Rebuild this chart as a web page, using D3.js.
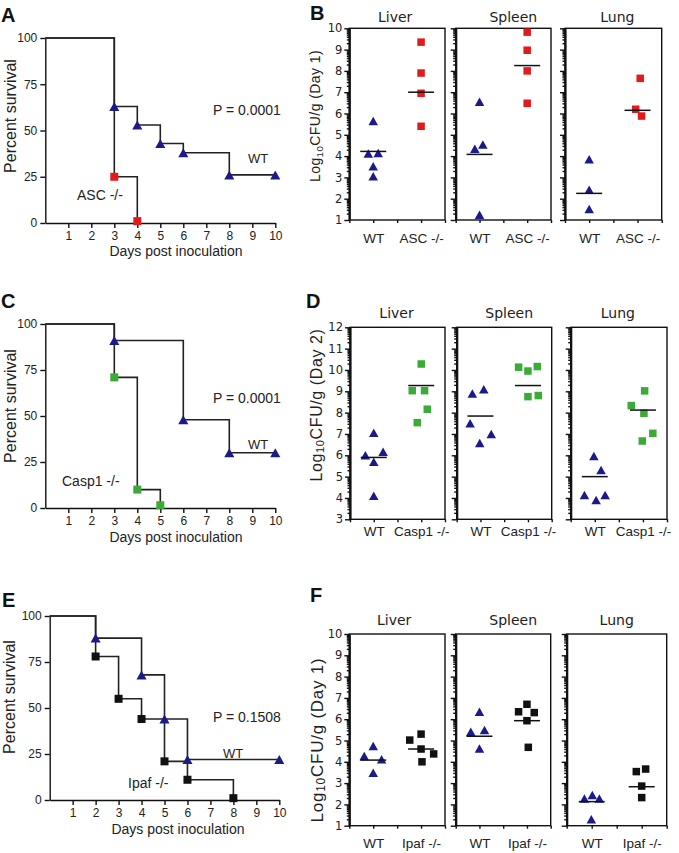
<!DOCTYPE html>
<html><head><meta charset="utf-8">
<script src="https://cdn.jsdelivr.net/npm/d3@7"></script>
<style>body{margin:0;background:#fff} svg{display:block}</style>
</head><body><svg id="c" width="679" height="853"></svg>
<script>
// ---------------- data ----------------
const dayTicks = [1,2,3,4,5,6,7,8,9,10];
const pctTicks = [0,25,50,75,100];

// Panel A (survival, WT vs ASC -/-)
const aWtDays = [0,3,4,5,6,8,10];
const aWtPct  = [100,63,53,43,38,26,26];
const aKoDays = [0,3,4];
const aKoPct  = [100,25,1];
// Panel C (survival, WT vs Casp1 -/-)
const cWtDays = [0,3,6,8,10];
const cWtPct  = [100,91,48,30,30];
const cKoDays = [0,3,4,5];
const cKoPct  = [100,71,10,1.5];
// Panel E (survival, WT vs Ipaf -/-)
const eWtDays = [0,2,4,5,6,10];
const eWtPct  = [100,88,68,44,22,22];
const eKoDays = [0,2,3,4,5,6,8];
const eKoPct  = [100,78,55,44,21,11,1];

const organs  = ["Liver","Spleen","Lung"];
const koNames = ["ASC -/-","Casp1 -/-","Ipaf -/-"];
const pLabels = ["P = 0.0001","P = 0.0001","P = 0.1508"];

// Panel B (Log10 CFU/g, Day 1) per organ: Liver, Spleen, Lung
const bWt    = [[5.65,4.12,4.15,3.52,3.05],[6.55,4.55,4.35,1.25],[3.85,2.42,1.52]];
const bWtJit = [[0,-0.55,0.55,0,0],[0,0.37,-0.52,0],[0,0,0]];
const bKo    = [[9.35,7.9,6.95,5.4],[9.82,8.97,8.0,6.48],[7.65,6.2,5.88]];
const bKoJit = [[0,0,0,0],[0,0,0,0],[0.3,-0.2,0.45]];
const bWtMid = [4.22,4.08,2.25];
const bKoMid = [7.0,8.25,6.15];

// Panel D (Log10 CFU/g, Day 2)
const dWt    = [[7.06,6.0,6.17,5.7,4.1],[8.9,9.1,7.5,6.58,7.0],[5.97,5.31,4.14,3.9,4.14]];
const dWtJit = [[0,-0.93,1.04,0,0],[-0.9,0.37,-1.15,-0.08,1.2],[-0.1,0.7,-1.15,0.15,1.15]];
const dKo    = [[10.28,9.03,9.03,8.16,7.53],[10.13,9.95,10.16,8.75,8.8],[9.02,8.33,7.97,7.03,6.67]];
const dKoJit = [[0,-1,0.37,0.67,-0.44],[-1.04,0,1.04,0,1.15],[0.19,-1.3,0.11,1.1,-0.07]];
const dWtMid = [5.9,7.84,5.0];
const dKoMid = [9.27,9.27,8.12];

// Panel F (Log10 CFU/g, Day 1)
const fWt    = [[4.74,4.27,4.12,3.49],[6.35,5.41,5.49,4.63],[2.44,2.28,2.28,1.3]];
const fWtJit = [[0,-1,0.93,0],[0,-0.96,0.56,0],[0.07,-0.81,0.85,-0.04]];
const fKo    = [[5.02,5.3,4.6,4.37,4.0],[6.7,6.35,6.31,5.93,4.68],[3.54,3.66,2.86,2.32]];
const fKoJit = [[-1.26,0,0,1.4,0.1],[0,-0.93,0.81,0,0.15],[-0.6,0.44,0,0]];
const fWtMid = [4.08,5.2,2.13];
const fKoMid = [4.6,5.93,2.83];

// ---------------- style ----------------
const NAVY = "#1c1a88", RED = "#e3191c", GREEN = "#3aab37", BLACK = "#111111";
const SANS = "'Liberation Sans', Arial, sans-serif";
const GEN  = "'DejaVu Sans', Verdana, sans-serif";

const svg = d3.select("#c");

function triPath(w, h){ return `M0,${-h/2}L${w/2},${h/2}L${-w/2},${h/2}Z`; }

function drawMarker(g, shape, color, cx, cy, size){
  if (shape === "tri") {
    g.append("path").attr("d", triPath(size*1.12, size)).attr("transform", `translate(${cx},${cy})`).attr("fill", color);
  } else {
    g.append("rect").attr("x", cx-size/2).attr("y", cy-size/2).attr("width", size).attr("height", size).attr("fill", color);
  }
}

function styleAxis(a, font, size){
  a.selectAll("path,line").attr("stroke", "#111").attr("stroke-width", 1.4);
  a.selectAll("text").attr("fill", "#222").style("font-family", font).style("font-size", size + "px");
}

// ---------------- survival panel ----------------
function survival(o){
  const x = d3.scaleLinear().domain([0,10]).range([o.x0, o.x10]);
  const y = d3.scaleLinear().domain([0,100]).range([o.yb, o.yt]);
  const g = svg.append("g");

  const xa = g.append("g").attr("transform", `translate(0,${o.yb})`)
    .call(d3.axisBottom(x).tickValues(dayTicks).tickSize(5).tickPadding(3).tickSizeOuter(0));
  styleAxis(xa, SANS, 12);
  const ya = g.append("g").attr("transform", `translate(${o.x0},0)`)
    .call(d3.axisLeft(y).tickValues(pctTicks).tickSize(5).tickPadding(3).tickSizeOuter(0));
  styleAxis(ya, SANS, 12);

  const line = d3.line().x(d => x(d[0])).y(d => y(d[1])).curve(d3.curveStepAfter);
  const ko = d3.zip(o.koDays, o.koPct), wt = d3.zip(o.wtDays, o.wtPct);
  g.append("path").attr("d", line(ko)).attr("fill","none").attr("stroke","#222").attr("stroke-width",1.6);
  g.append("path").attr("d", line(wt)).attr("fill","none").attr("stroke","#222").attr("stroke-width",1.6);
  ko.slice(1).forEach(d => drawMarker(g, "sq", o.koColor, x(d[0]), y(d[1]), 8));
  wt.slice(1).forEach(d => drawMarker(g, "tri", NAVY, x(d[0]), y(d[1]), 9));

  g.append("text").attr("x", o.pX).attr("y", o.pY).text(o.pText)
    .style("font-family", SANS).style("font-size","14px").attr("fill","#222");
  g.append("text").attr("x", o.wtX).attr("y", o.wtY).text("WT")
    .style("font-family", SANS).style("font-size","13px").attr("fill","#222");
  g.append("text").attr("x", o.koX).attr("y", o.koY).text(o.koText)
    .style("font-family", SANS).style("font-size","14px").attr("fill","#222");

  g.append("text").attr("x", o.xtX).attr("y", o.xtY).attr("text-anchor","middle")
    .text("Days post inoculation").style("font-family", SANS).style("font-size","14px").attr("fill","#222");
  g.append("text").attr("transform", `translate(${o.ytX},${o.ytY}) rotate(-90)`).attr("text-anchor","middle")
    .text("Percent survival").style("font-family", SANS).style("font-size","16px").attr("fill","#222");
}

// ---------------- scatter panel ----------------
function scatter(o){
  const g = svg.append("g");
  const ints = d3.range(o.dom[0], o.dom[1] + 1);
  const minors = [];
  for (let n = o.dom[0]; n < o.dom[1]; n++) for (let k = 2; k <= 9; k++) minors.push(n + Math.log10(k));

  organs.forEach((org, i) => {
    const [l, r] = o.frames[i];
    const x = d3.scalePoint().domain(["WT", o.koName]).range([l, r]).padding(0.5);
    const xf = d3.scaleLinear().domain([0,1]).range([l, r]);
    const y = d3.scaleLinear().domain(o.dom).range([o.bottom, o.top]);

    g.append("rect").attr("x", l).attr("y", o.top).attr("width", r - l).attr("height", o.bottom - o.top)
      .attr("fill","none").attr("stroke","#111").attr("stroke-width",1.4);

    const yMin = g.append("g").attr("transform", `translate(${l},0)`)
      .call(d3.axisLeft(y).tickValues(minors).tickSize(2.5).tickSizeOuter(0));
    styleAxis(yMin, GEN, 11);
    yMin.select(".domain").remove();
    yMin.selectAll("text").remove();
    const ya = g.append("g").attr("transform", `translate(${l},0)`)
      .call(d3.axisLeft(y).tickValues(ints).tickSize(5).tickPadding(2).tickSizeOuter(0).tickFormat(d3.format("d")));
    styleAxis(ya, GEN, 11.5);
    ya.select(".domain").attr("stroke-width", 2.2);
    if (i !== 0) ya.selectAll("text").remove();

    const xMin = g.append("g").attr("transform", `translate(0,${o.bottom})`)
      .call(d3.axisBottom(xf).tickValues([0,0.5,1]).tickSize(3).tickSizeOuter(0));
    styleAxis(xMin, SANS, 13);
    xMin.select(".domain").remove();
    xMin.selectAll("text").remove();
    const xa = g.append("g").attr("transform", `translate(0,${o.bottom})`)
      .call(d3.axisBottom(x).tickSize(3).tickPadding(o.labPad).tickSizeOuter(0));
    styleAxis(xa, SANS, 13.5);
    xa.select(".domain").remove();

    g.append("text").attr("x", (l + r)/2 + o.titleDx[i]).attr("y", o.titleY).attr("text-anchor","middle")
      .text(org).style("font-family", GEN).style("font-size","14px").attr("fill","#222");

    const J = 9;
    o.wt[i].forEach((v, k) => drawMarker(g, "tri", NAVY, x("WT") + o.wtJit[i][k]*J, y(v), 8.5));
    o.ko[i].forEach((v, k) => drawMarker(g, "sq", o.koColor, x(o.koName) + o.koJit[i][k]*J, y(v), 7.5));

    [[x("WT"), o.wtMid[i]], [x(o.koName), o.koMid[i]]].forEach(([cx, v]) => {
      g.append("line").attr("x1", cx - 13).attr("x2", cx + 13).attr("y1", y(v)).attr("y2", y(v))
        .attr("stroke","#111").attr("stroke-width",1.5);
    });
  });

  const fs = o.ylFont;
  const t = g.append("text").attr("transform", `translate(${o.ylX},${o.ylY}) rotate(-90)`)
    .attr("text-anchor","middle").attr("dominant-baseline","central")
    .style("font-family", SANS).style("font-size", fs + "px").attr("fill","#222");
  t.append("tspan").text("Log");
  t.append("tspan").text("10").style("font-size", (fs*0.7) + "px").attr("dy", fs*0.25);
  t.append("tspan").text("CFU/g (Day " + o.day + ")").attr("dy", -fs*0.25);
  const len = t.node().getComputedTextLength();
  const nch = ("Log10CFU/g (Day " + o.day + ")").length;
  t.style("letter-spacing", ((o.ylLen - len) / nch) + "px");
}

// ---------------- build ----------------
survival({x0:45.3, x10:275.3, yb:223, yt:38, wtDays:aWtDays, wtPct:aWtPct, koDays:aKoDays, koPct:aKoPct,
  koColor:RED, pText:pLabels[0], pX:213, pY:115, wtX:248, wtY:163, koText:koNames[0], koX:77, koY:200,
  xtX:176, xtY:256, ytX:16, ytY:116});
survival({x0:45.3, x10:275.3, yb:508, yt:324, wtDays:cWtDays, wtPct:cWtPct, koDays:cKoDays, koPct:cKoPct,
  koColor:GREEN, pText:pLabels[1], pX:213, pY:403, wtX:248, wtY:449, koText:koNames[1], koX:62, koY:486,
  xtX:176, xtY:542, ytX:16, ytY:406});
survival({x0:49.7, x10:279.3, yb:800, yt:616, wtDays:eWtDays, wtPct:eWtPct, koDays:eKoDays, koPct:eKoPct,
  koColor:BLACK, pText:pLabels[2], pX:213, pY:722, wtX:223, wtY:758, koText:koNames[2], koX:128, koY:788,
  xtX:178, xtY:834, ytX:15, ytY:697});

scatter({top:28.3, bottom:220, frames:[[349.3,445],[455.7,551],[565,661.7]], dom:[1,10], koName:koNames[0],
  koColor:RED, wt:bWt, wtJit:bWtJit, ko:bKo, koJit:bKoJit, wtMid:bWtMid, koMid:bKoMid,
  titleY:21.7, titleDx:[-2,10,4], labPad:10, day:1, ylX:315, ylY:116, ylLen:132, ylFont:14});
scatter({top:327.3, bottom:519.3, frames:[[350,445],[456.7,551.7],[570.7,667]], dom:[3,12], koName:koNames[1],
  koColor:GREEN, wt:dWt, wtJit:dWtJit, ko:dKo, koJit:dKoJit, wtMid:dWtMid, koMid:dKoMid,
  titleY:318, titleDx:[-1,5,-1], labPad:4, day:2, ylX:316, ylY:405, ylLen:153, ylFont:16});
scatter({top:634, bottom:825.7, frames:[[349.3,445],[455.7,550.7],[566.7,666.7]], dom:[1,10], koName:koNames[2],
  koColor:BLACK, wt:fWt, wtJit:fWtJit, ko:fKo, koJit:fKoJit, wtMid:fWtMid, koMid:fKoMid,
  titleY:625, titleDx:[-3,10,0], labPad:9.5, day:1, ylX:317, ylY:740, ylLen:165, ylFont:17});

// panel letters
[["A",1,22],["B",310,20],["C",1,308],["D",306,308],["E",2,607],["F",310,602]].forEach(([t,x,y]) => {
  svg.append("text").attr("x",x).attr("y",y).text(t)
    .style("font-family", SANS).style("font-weight","bold").style("font-size","20px").attr("fill","#111");
});
</script></body></html>
